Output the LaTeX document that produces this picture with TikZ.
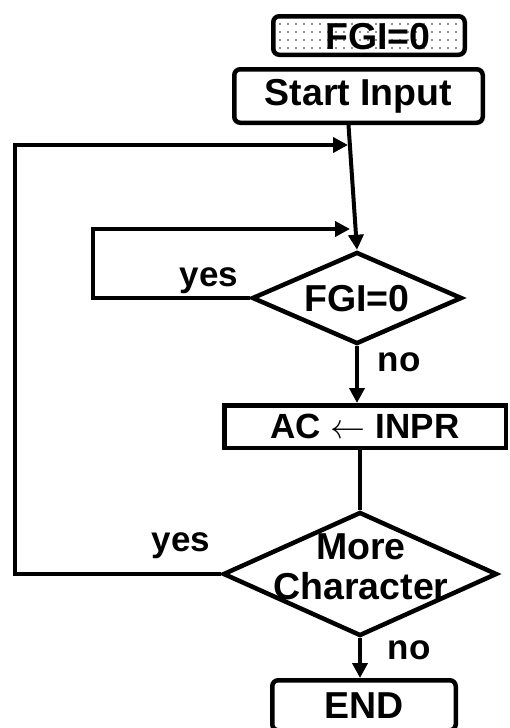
\RequirePackage{fix-cm}
\documentclass[tikz,border=0pt]{standalone}
\usepackage{fontspec}
\setmainfont{Liberation Sans}
\usetikzlibrary{shapes.geometric,arrows.meta,patterns.meta}

\tikzset{
  flow/.style={line width=4pt},
  arr/.style={flow,-{Triangle[length=15pt,width=15pt]}},
  txt/.style={inner sep=0pt,font=\fontsize{35}{40}\selectfont\bfseries},
  bigtxt/.style={inner sep=0pt,font=\fontsize{37.5}{40}\selectfont\bfseries},
  procbox/.style={bigtxt,draw,line width=4.5pt,rounded corners=6pt},
  plainbox/.style={txt,draw,line width=4.5pt},
  decision/.style={diamond,draw,line width=4.5pt,inner sep=0pt}
}

\begin{document}
\begin{tikzpicture}[x=1pt,y=1pt]
  \useasboundingbox (0,0) rectangle (510,-728);
  \clip (0,0) rectangle (510,-728);

  \node[procbox,minimum width=191.5pt,minimum height=38.5pt,
        pattern={Dots[distance=8pt,radius=1.1pt]},pattern color=gray!80!black]
        (flag) at (369,-35.5) {};
  \node[bigtxt] (flagtext) at (378,-37) {FGI=0};
  \node[procbox,minimum width=248.5pt,minimum height=53.5pt] (start) at (358.5,-96) {Start Input};
  \node[decision,minimum width=210pt,minimum height=92pt] (fgi) at (357,-298) {};
  \node[bigtxt] (fgitext) at (357,-299) {FGI=0};
  \node[plainbox,minimum width=281.5pt,minimum height=42.5pt] (ac) at (365,-426.5) {AC $\leftarrow$ INPR};
  \node[decision,minimum width=274pt,minimum height=124pt] (more) at (360,-574) {};
  \node[bigtxt,align=center] (moretext) at (361,-567) {More\\Character};
  \node[procbox,minimum width=183.5pt,minimum height=50pt] (end) at (364,-705.25) {END};

  \node[txt] (yes1) at (209,-281) {yes};
  \node[txt] (no1) at (399,-362) {no};
  \node[txt] (yes2) at (181,-546) {yes};
  \node[txt] (no2) at (409,-650) {no};

  \coordinate (s1) at ([xshift=-10pt]start.south);
  \coordinate (in1) at (93,-229);
  \coordinate (in2) at (350,-229);
  \coordinate (out1) at (15,-145);
  \coordinate (out2) at (348,-145);

  \draw[arr] (s1) -- (fgi.north);
  \draw[arr] (fgi.west) -| (in1) -- (in2);
  \draw[arr] (fgi.south) -- (fgi.south |- ac.north);
  \draw[flow] (more.north |- ac.south) -- (more.north);
  \draw[arr] (more.west) -| (out1) -- (out2);
  \draw[arr] (more.south) -- (more.south |- end.north);
\end{tikzpicture}
\end{document}
